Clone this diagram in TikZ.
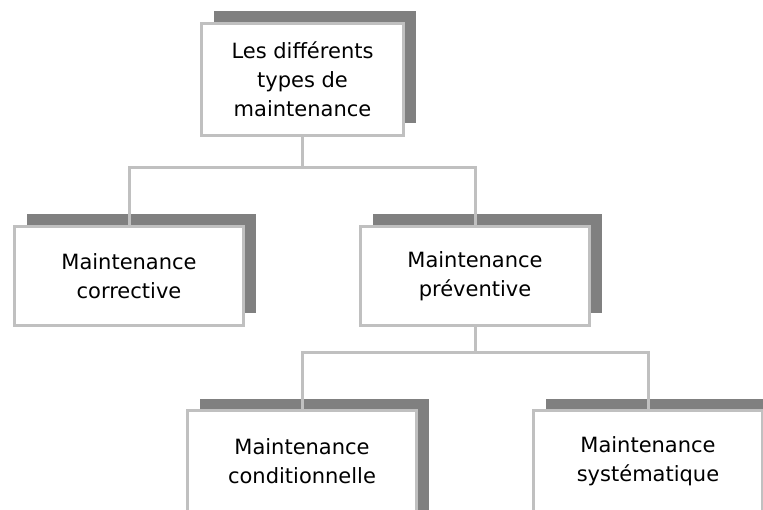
\documentclass[tikz,border=0pt]{standalone}
\usepackage{fontspec}
\newfontfamily\dvfont{DejaVu Sans}
\usetikzlibrary{shadows}
\definecolor{bordc}{RGB}{192,192,192}
\definecolor{shc}{RGB}{128,128,128}
\tikzset{
  txt/.style={align=center, inner sep=0pt, font={\dvfont\fontsize{21}{29}\selectfont}},
  box/.style={txt, draw=bordc, line width=3pt, fill=white, minimum width=229pt, minimum height=99pt,
    general shadow={fill=shc, shadow xshift=12pt, shadow yshift=12pt}},
  lowbox/.style={box, minimum height=115pt},
  conn/.style={draw=bordc, line width=3pt}
}
\begin{document}
\begin{tikzpicture}[x=1pt,y=-1pt]
\useasboundingbox (0,0) rectangle (763,510);
\node[box, minimum width=202pt, minimum height=112pt] (top) at (302.5,79.5) {Les différents\\types de\\maintenance};
\node[box] (corr) at (129,276) {Maintenance\\corrective};
\node[box] (prev) at (475,276) {Maintenance\\préventive};
\node[lowbox] (cond) at (302,468.5) {};
\node[lowbox] (syst) at (648,468.5) {};
\node[txt] (condt) at (302,461) {Maintenance\\conditionnelle};
\node[txt] (systt) at (648,461) {Maintenance\\systématique};
\coordinate (j1) at (302.5,168);
\coordinate (j2) at (475,352.5);
\draw[conn] (top.south) -- (j1);
\draw[conn] (j1) -| (corr.north);
\draw[conn] (j1) -| (prev.north);
\draw[conn] (prev.south) -- (j2);
\draw[conn] (j2) -| (cond.north);
\draw[conn] (j2) -| (syst.north);
\end{tikzpicture}
\end{document}
